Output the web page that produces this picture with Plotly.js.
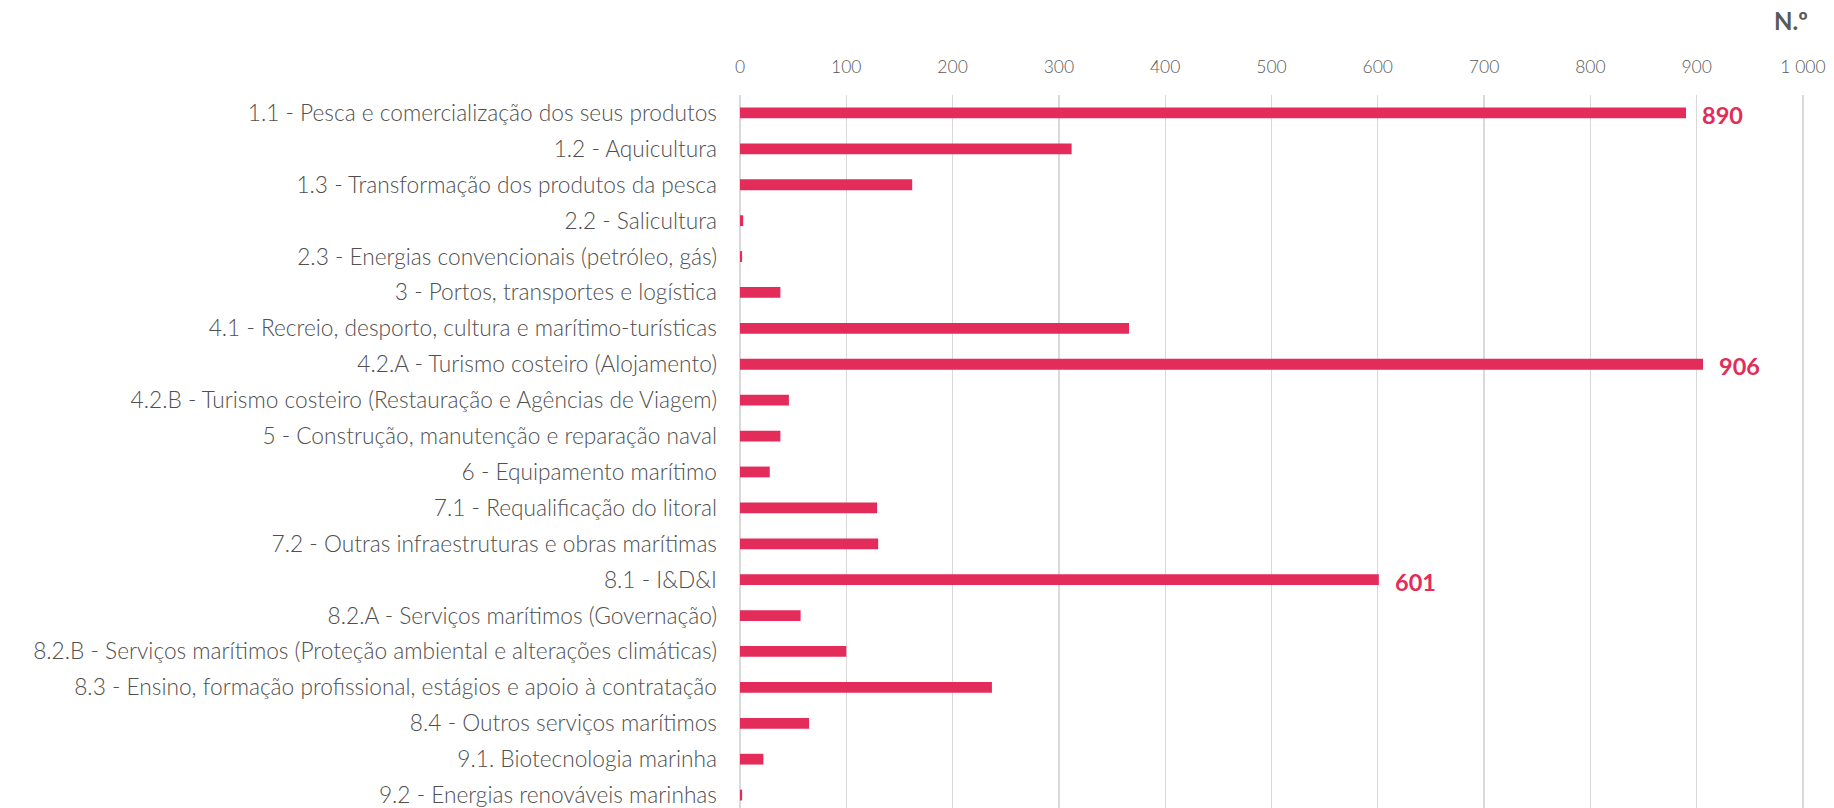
<!DOCTYPE html>
<html>
<head>
<meta charset="utf-8">
<script src="https://cdn.plot.ly/plotly-3.0.1.min.js"></script>
<style>html,body{margin:0;padding:0;background:#fff;}#chart{width:1834px;height:808px;}</style>
</head>
<body>
<div id="chart"></div>
<script>
const categories = [
  "1.1 - Pesca e comercialização dos seus produtos",
  "1.2 - Aquicultura",
  "1.3 - Transformação dos produtos da pesca",
  "2.2 - Salicultura",
  "2.3 - Energias convencionais (petróleo, gás)",
  "3 - Portos, transportes e logística",
  "4.1 - Recreio, desporto, cultura e marítimo-turísticas",
  "4.2.A - Turismo costeiro (Alojamento)",
  "4.2.B - Turismo costeiro (Restauração e Agências de Viagem)",
  "5 - Construção, manutenção e reparação naval",
  "6 - Equipamento marítimo",
  "7.1 - Requalificação do litoral",
  "7.2 - Outras infraestruturas e obras marítimas",
  "8.1 - I&D&I",
  "8.2.A - Serviços marítimos (Governação)",
  "8.2.B - Serviços marítimos (Proteção ambiental e alterações climáticas)",
  "8.3 - Ensino, formação profissional, estágios e apoio à contratação",
  "8.4 - Outros serviços marítimos",
  "9.1. Biotecnologia marinha",
  "9.2 - Energias renováveis marinhas"
];
const values = [890, 312, 162, 3, 2, 38, 366, 906, 46, 38, 28, 129, 130, 601, 57, 100, 237, 65, 22, 2];
const labelledValues = [890, 906, 601];
const xTicks = [0, 100, 200, 300, 400, 500, 600, 700, 800, 900, 1000];
const unitLabel = "N.º";

const pink = "#E32C5A";
const grey = "#595959";
const fam = "Lato, 'Open Sans', sans-serif";

const trace = {
  type: "bar",
  orientation: "h",
  y: categories,
  x: values,
  width: 0.3,
  marker: {color: pink},
  hoverinfo: "x+y"
};

const annotations = categories
  .map((c, i) => ({c, v: values[i]}))
  .filter(d => labelledValues.includes(d.v))
  .map(d => ({
    x: d.v, y: d.c, xref: "x", yref: "y",
    text: "<b>" + d.v + "</b>",
    showarrow: false, xanchor: "left", yanchor: "middle",
    xshift: 14, yshift: -2,
    font: {family: fam, size: 23.5, color: pink}
  }));

annotations.push({
  xref: "paper", yref: "paper", x: 1.0, y: 1, xanchor: "center", yanchor: "bottom",
  xshift: -13, yshift: 58,
  text: "<b>" + unitLabel + "</b>", showarrow: false,
  font: {family: fam, size: 24, color: grey}
});

const layout = {
  width: 1834, height: 808,
  margin: {l: 740, r: 30, t: 95, b: 0, pad: 0},
  paper_bgcolor: "#ffffff", plot_bgcolor: "#ffffff",
  separators: ", ",
  showlegend: false,
  xaxis: {
    side: "top",
    range: [0, 1001],
    tickvals: xTicks,
    tickformat: ",d",
    showgrid: true, gridcolor: "#D9D9D9", gridwidth: 1.3,
    zeroline: true, zerolinecolor: "#D9D9D9", zerolinewidth: 1.3,
    showline: false, ticks: "",
    ticklabelstandoff: 18,
    tickfont: {family: fam, size: 17.5, color: grey, weight: 300}
  },
  yaxis: {
    type: "category",
    range: [19.36, -0.5],
    showgrid: false, zeroline: false, showline: false, ticks: "",
    ticklabelstandoff: 22,
    tickfont: {family: fam, size: 22.7, color: "#505050", weight: 300}
  },
  annotations: annotations
};

Plotly.newPlot("chart", [trace], layout, {displayModeBar: false, staticPlot: true});
</script>
</body>
</html>
